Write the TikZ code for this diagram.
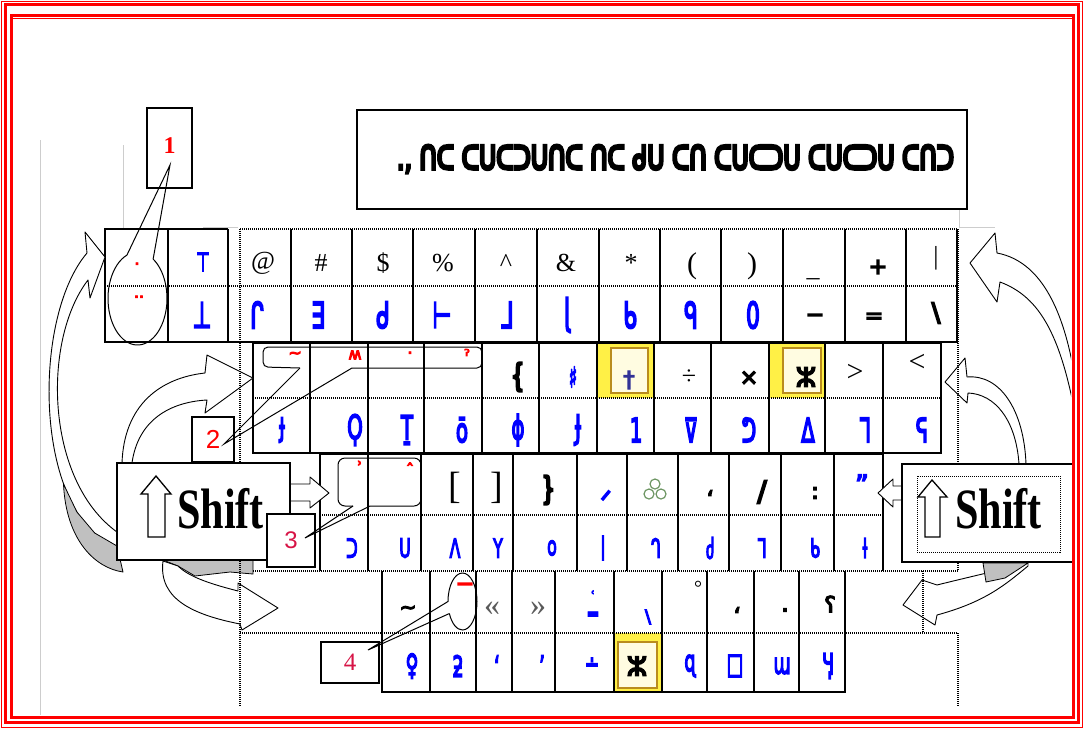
\documentclass[tikz,border=0pt]{standalone}
\usepackage{graphicx}
\usepackage{fontspec}
\setmainfont{Liberation Serif}
\newfontfamily\glyphfont[FakeBold=6]{DejaVu Sans}
\newfontfamily\titlefont[FakeBold=10]{DejaVu Sans}
\newfontfamily\labelsans{Liberation Sans}
\usetikzlibrary{positioning}
\definecolor{keyblue}{RGB}{0,0,255}
\definecolor{labelred}{RGB}{255,0,0}
\definecolor{labelcrimson}{RGB}{215,20,70}
\definecolor{framered}{RGB}{255,0,0}
\definecolor{keyyellow}{RGB}{255,240,70}
\definecolor{keygold}{RGB}{185,140,30}
\definecolor{keycream}{RGB}{255,252,225}
\definecolor{shadegray}{RGB}{192,192,192}
\definecolor{faintgray}{RGB}{205,205,205}
\definecolor{trefoilgreen}{RGB}{110,150,100}
\definecolor{daggernavy}{RGB}{50,50,150}
\definecolor{quotegray}{RGB}{90,90,90}
\newcommand\slim[1]{\scalebox{0.6}[1]{#1}}
\tikzset{
  keyline/.style={line width=1.2pt},
  dotline/.style={line width=1.1pt, dash pattern=on 1pt off 1pt},
  faint/.style={draw=faintgray, line width=1pt},
  topsym/.style={font=\fontsize{26}{26}\selectfont, inner sep=0pt},
  boldsym/.style={font=\glyphfont\fontsize{22}{22}\selectfont, inner sep=0pt},
  blueone/.style={font=\glyphfont\fontsize{36}{36}\selectfont, text=keyblue, inner sep=0pt},
  bluetwo/.style={font=\glyphfont\fontsize{33}{33}\selectfont, text=keyblue, inner sep=0pt},
  bluethree/.style={font=\glyphfont\fontsize{26}{26}\selectfont, text=keyblue, inner sep=0pt},
  bluefour/.style={font=\glyphfont\fontsize{29}{29}\selectfont, text=keyblue, inner sep=0pt},
  redmark/.style={font=\glyphfont\fontsize{16}{16}\selectfont, text=labelred, inner sep=0pt},
  blockarrow/.style={draw, fill=white, line width=0.9pt, line join=round},
  shade/.style={draw, fill=shadegray, line width=0.8pt, line join=round},
  numbox/.style={draw, fill=white, line width=1.1pt, inner sep=0pt},
  callout/.style={line width=1pt},
  shiftbox/.style={draw, fill=white, line width=1.1pt, inner sep=0pt},
  shiftword/.style={font=\bfseries\fontsize{57}{57}\selectfont, inner sep=0pt, anchor=base west},
}

\begin{document}
\begin{tikzpicture}[x=1pt,y=-1pt]
\useasboundingbox (0,0) rectangle (1085,732);

% Guide lines
\draw[faint] (40,140) -- (40,715);
\draw[faint] (123,145) -- (123,229);
\draw[faint] (203,227) -- (238,227);
\draw[faint] (959,210) -- (959,227) -- (995,227);

% Title
\node[draw, line width=1.6pt, minimum width=610pt, minimum height=99pt, inner sep=0pt] (titlebox) at (662,159.5) {};
\node[font=\titlefont\fontsize{30}{30}\selectfont, inner sep=0pt] (titletext) at (675.5,159)
  {\resizebox{557pt}{24pt}{., ᑎᑕ ᑕᑌᑕᑐᑌᑎᑕ ᑎᑕ ᑯᑌ ᑕᑎ ᑕᑌᑕᑐᑌ ᑕᑌᑕᑐᑌ ᑕᑎᑐ}};

% Highlighted keys
\fill[keyyellow] (598,343) rectangle (654,398);
\draw[keygold, line width=1.5pt, fill=keycream] (611,348) rectangle (648,393);
\fill[keyyellow] (770,343) rectangle (825,398);
\draw[keygold, line width=1.5pt, fill=keycream] (783,348) rectangle (821,393);
\fill[keyyellow] (614,633) rectangle (662,692);
\draw[keygold, line width=1.5pt, fill=keycream] (618,642) rectangle (657,688);

% Row 1
\draw[keyline] (228,229) -- (105,229) -- (105,342) -- (957,342) -- (957,229);
\draw[dotline] (240,229) -- (957,229);
\foreach \x in {168,228,291,352,413,475,537,599,660,721,783,845,906}
  \draw[keyline] (\x,229) -- (\x,342);
\draw[dotline] (105,286) -- (957,286);

% Row 2
\draw[keyline] (253,343) rectangle (941,453);
\foreach \x in {310,368,424,482,539,597,654,711,769,825,883}
  \draw[keyline] (\x,343) -- (\x,453);
\draw[dotline] (253,398) -- (941,398);

% Row 3
\draw[keyline] (320,571) -- (320,454) -- (883,454) -- (883,571);
\foreach \x in {368,421,473,513,577,627,678,729,781,834}
  \draw[keyline] (\x,454) -- (\x,571);
\draw[dotline] (320,515) -- (883,515);

% Row 4
\draw[keyline] (382,571) -- (382,692) -- (845,692) -- (845,571);
\foreach \x in {430,476,512,555,614,662,707,754,799}
  \draw[keyline] (\x,571) -- (\x,692);

% Row 1 signs
\node[redmark] (r1dot) at (137,266) {·};
\node[redmark] (r1dots) at (139,299) {··};
\node[blueone, font=\glyphfont\fontsize{26}{26}\selectfont] (r1t0) at (203,262) {\slim{⊤}};
\foreach \x/\g [count=\i] in {263/@,321/\#,383/\$,443/\%,506/\textasciicircum,566/\&,631/*}
  \node[topsym] (r1t\i) at (\x,263) {\g};
\node[topsym, font=\fontsize{30}{30}\selectfont] (r1t8) at (692,266) {(};
\node[topsym, font=\fontsize{30}{30}\selectfont] (r1t9) at (752,266) {)};
\node[topsym] (r1t10) at (813,278) {\_};
\node[boldsym] (r1t11) at (878,267) {+};
\node[topsym] (r1t12) at (936,258) {|};
\foreach \x/\g [count=\i] in {202/⊥,257/ᒋ,318/∃,383/ᑯ,442/⊢,507/ᒧ,567/ɭ,630/ᑲ,691/ᑫ,753/0}
  \node[blueone] (r1b\i) at (\x,315) {\slim{\g}};
\node[boldsym] (r1b11) at (815,318) {−};
\node[boldsym] (r1b12) at (874,318) {=};
\node[boldsym, font=\glyphfont\fontsize{26}{26}\selectfont] (r1b13) at (936,313) {\textbackslash};

% Row 2 signs
\foreach \x/\g [count=\i] in {295/∼,355/ʍ,410/·,467/ˀ}
  \node[redmark] (r2r\i) at (\x,355) {\g};
\node[boldsym, font=\glyphfont\fontsize{32}{32}\selectfont] (r2t1) at (518,377) {\slim{❴}};
\node[bluetwo, font=\glyphfont\fontsize{28}{28}\selectfont] (r2t2) at (573,377) {\slim{♯}};
\node[boldsym, text=daggernavy] (r2t3) at (629,380) {†};
\node[topsym] (r2t4) at (689,377) {÷};
\node[boldsym] (r2t5) at (749,378) {×};
\node[boldsym, font=\glyphfont\fontsize{26}{26}\selectfont] (r2t6) at (806,377) {ⵣ};
\node[topsym, font=\fontsize{30}{30}\selectfont] (r2t7) at (855,373) {>};
\node[topsym, font=\fontsize{30}{30}\selectfont] (r2t8) at (917,363) {<};
\foreach \x/\g [count=\i] in {282/ɟ,355/Ϙ,407/Ṯ,462/ō,518/ϕ,578/Ɉ,636/1,691/⊽,749/ᕤ,808/ᐃ,865/ᒣ,922/ᕋ}
  \node[bluetwo] (r2b\i) at (\x,430) {\slim{\g}};

% Row 3 signs
\node[redmark] (r3r1) at (360,467) {ʾ};
\node[redmark] (r3r2) at (410,469) {ˆ};
\node[topsym, font=\fontsize{38}{38}\selectfont] (r3t1) at (455,488) {[};
\node[topsym, font=\fontsize{38}{38}\selectfont] (r3t2) at (497,488) {]};
\node[boldsym, font=\glyphfont\fontsize{32}{32}\selectfont] (r3t3) at (548,490) {\slim{❵}};
\node[bluethree] (r3t4) at (606,500) {ᐟ};
\foreach \p [count=\i] in {(649,494),(661,494),(655,484)}
  \node[circle, draw=trefoilgreen, line width=1.2pt, minimum size=10pt, inner sep=0pt] (clover\i) at \p {};
\node[boldsym] (r3t5) at (710,493) {،};
\node[boldsym, font=\glyphfont\fontsize{28}{28}\selectfont] (r3t6) at (762,492) {/};
\node[boldsym] (r3t7) at (815,493) {:};
\node[bluethree] (r3t8) at (862,484) {”};
\foreach \x/\g [count=\i] in {352/ᑐ,405/ᑌ,455/ᐱ,498/Y,552/ᴏ,603/ǀ,656/ᒉ,710/ძ,762/ᒣ,815/ᑲ,865/ƚ}
  \node[bluethree] (r3b\i) at (\x,548) {\slim{\g}};

% Row 4 signs
\node[boldsym, font=\glyphfont\fontsize{20}{20}\selectfont] (r4t1) at (408,610) {∼};
\node[boldsym, text=labelred] (r4red) at (465,587) {−};
\node[topsym, font=\fontsize{32}{32}\selectfont, text=quotegray] (r4t2) at (492,609) {«};
\node[topsym, font=\fontsize{32}{32}\selectfont, text=quotegray] (r4t3) at (538,609) {»};
\node[bluethree, font=\glyphfont\fontsize{13}{17}\selectfont, align=center] (r4t4) at (593,604) {ʿ\\▬};
\node[bluethree, font=\glyphfont\fontsize{18}{18}\selectfont] (r4t5) at (648,617) {\textbackslash};
\node[topsym, font=\fontsize{20}{20}\selectfont] (r4t6) at (698,588) {°};
\node[boldsym] (r4t7) at (737,610) {،};
\node[boldsym] (r4t8) at (785,610) {.};
\node[boldsym] (r4t9) at (830,604) {؟};
\foreach \x/\g [count=\i] in {412/♀,458/ƻ,497/ʻ,542/ʼ,592/∸,690/ɋ,735/□,782/ɯ,828/Ӌ}
  \node[bluefour] (r4b\i) at (\x,666) {\slim{\g}};
\node[boldsym, font=\glyphfont\fontsize{26}{26}\selectfont] (r4b10) at (637,666) {ⵣ};

% Arrows
\draw[blockarrow] (117,546) .. controls (35,520) and (30,320) .. (87,253) -- (85,232) -- (105,257)
  -- (90,298) -- (88,280) .. controls (42,340) and (45,480) .. (117,532) -- cycle;
\draw[shade] (63.5,484) -- (76.9,512) -- (94.7,533) -- (117,546) -- (123,572)
  .. controls (95,568) and (66,540) .. (63.5,484) -- cycle;
\draw[blockarrow] (122,463) .. controls (124,405) and (160,378) .. (205,373) -- (207,355) -- (253,378)
  -- (205,413) -- (207,400) .. controls (170,402) and (138,420) .. (132,463) -- cycle;
\draw[shade] (163,560) -- (253,560) -- (253,574) -- (230,572) -- (195,576) -- (178,566) -- cycle;
\draw[blockarrow] (163,561) .. controls (158,600) and (195,615) .. (240,624) -- (242,630) -- (278,608)
  -- (238,583) -- (238,591) .. controls (215,585) and (190,578) .. (178,566) -- cycle;
\draw[blockarrow] (290,484) -- (310,484) -- (310,477) -- (329,493) -- (310,508) -- (310,501) -- (290,501) -- cycle;
\begin{scope}
  \clip (900,200) rectangle (1071,470);
  \draw[blockarrow] (970,263) -- (995,233) -- (997,253) .. controls (1045,262) and (1070,320) .. (1079,410)
    -- (1078,430) .. controls (1062,335) and (1040,297) .. (1000,282) -- (997,302) -- cycle;
\end{scope}
\draw[blockarrow] (945,382) -- (965,358) -- (967,377) .. controls (1000,374) and (1024,410) .. (1026,464)
  -- (1019,464) .. controls (1016,420) and (995,394) .. (968,393) -- (967,403) -- cycle;
\draw[blockarrow] (902,486) -- (893,486) -- (893,479) -- (878,493) -- (893,507) -- (893,500) -- (902,500) -- cycle;
\draw[blockarrow] (903,605) -- (922,580) -- (937,585) .. controls (965,578) and (1000,570) .. (1028,563)
  -- (1028,566) .. controls (1005,585) and (985,602) .. (937,615) -- (935,625) -- cycle;
\draw[shade] (983,563) -- (1028,563) -- (1005,578) -- (986,582) -- cycle;

% Layout guides
\draw[dotline] (240,229) -- (240,707);
\draw[dotline] (958,229) -- (958,571);
\draw[dotline] (253,571) -- (958,571);
\draw[dotline] (923,571) -- (923,633);
\draw[dotline] (240,633) -- (958,633) -- (958,707);

% Shift keys
\node[shiftbox, minimum width=173pt, minimum height=97pt] (shiftL) at (203.5,511.5) {};
\draw[line width=1.3pt, fill=white] (156,476) -- (171,494) -- (165,494) -- (165,537) -- (148,537) -- (148,494) -- (141,494) -- cycle;
\node[shiftword] (shiftLword) at (177,528) {\scalebox{0.74}[1]{Shift}};
\node[shiftbox, minimum width=171pt, minimum height=98pt] (shiftR) at (987.5,513) {};
\draw[dotline, line width=0.9pt] (917,476) rectangle (1060,552);
\draw[line width=1.3pt, fill=white] (932,480) -- (947,497) -- (940,497) -- (940,537) -- (925,537) -- (925,497) -- (918,497) -- cycle;
\node[shiftword] (shiftRword) at (955,528) {\scalebox{0.74}[1]{Shift}};

% Number boxes
\node[numbox, minimum width=45pt, minimum height=80pt, font=\bfseries\fontsize{24}{24}\selectfont, text=labelred] (lab1) at (169.5,148) {\raisebox{5pt}{1}};
\node[numbox, minimum width=42pt, minimum height=45pt, font=\labelsans\fontsize{26}{26}\selectfont, text=labelred] (lab2) at (213,439.5) {2};
\node[numbox, minimum width=48pt, minimum height=53pt, font=\labelsans\fontsize{24}{24}\selectfont, text=labelcrimson] (lab3) at (291,540.5) {3};
\node[numbox, minimum width=58pt, minimum height=41pt, font=\fontsize{25}{25}\selectfont, text=labelcrimson] (lab4) at (350,662.5) {4};

% Callouts
\coordinate (tip1) at (170,165);
\coordinate (tip2) at (224,444);
\coordinate (tip3) at (305,538);
\coordinate (tip4) at (368,650);
\draw[callout] ([shift={(137.5,298.5)}]302:29.5 and 46.5) -- (tip1) -- ([shift={(137.5,298.5)}]249:29.5 and 46.5)
  arc[start angle=249, end angle=-58, x radius=29.5, y radius=46.5];
\draw[callout, rounded corners=5] (300,368) -- (263,367) -- (263,347) -- (482,347) -- (482,368) -- (352,368);
\draw[callout] (300,368) -- (tip2) -- (352,368);
\draw[callout, rounded corners=7] (353,506) -- (338,506) -- (338,458) -- (421,458) -- (421,506) -- (370,506);
\draw[callout] (353,506) -- (tip3) -- (370,506);
\draw[callout] ([shift={(462.5,601.5)}]155:14.5 and 28.5) -- (tip4) -- ([shift={(462.5,601.5)}]180:14.5 and 28.5)
  arc[start angle=180, end angle=515, x radius=14.5, y radius=28.5];

% Frame
\draw[framered, line width=1.2pt] (1.5,1.5) rectangle (1082.5,727.5);
\draw[framered, line width=3.2pt] (5.5,4.5) rectangle (1078.5,722.8);
\draw[framered, line width=3pt] (11,15) rectangle (1073,717.7);
\draw[framered, line width=1pt] (11,18.5) -- (1073,18.5);
\end{tikzpicture}
\end{document}
